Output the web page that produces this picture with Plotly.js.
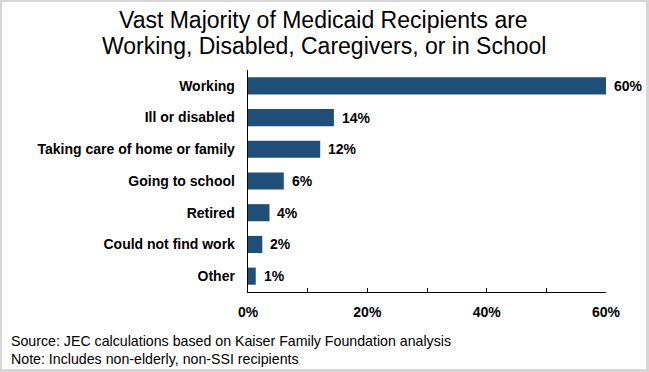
<!DOCTYPE html>
<html>
<head>
<meta charset="utf-8">
<script src="https://cdn.plot.ly/plotly-3.0.1.min.js"></script>
<style>
  html, body { margin: 0; padding: 0; background: #fff; }
  #wrap { position: relative; width: 649px; height: 372px; }
  #chart { width: 649px; height: 372px; }
  #frame { position: absolute; left: 0; top: 0; width: 649px; height: 372px; box-sizing: border-box;
           border-style: solid; border-color: #d6d6d6; border-width: 2px 3px 3px 2px; pointer-events: none; }
</style>
</head>
<body>
<div id="wrap"><div id="chart"></div><div id="frame"></div></div>
<script>
const categories = ["Working", "Ill or disabled", "Taking care of home or family", "Going to school", "Retired", "Could not find work", "Other"];
const shares = [60, 14.4, 12.1, 6, 3.6, 2.4, 1.3];
const xTickValues = [0, 20, 40, 60];
const titleLines = ["Vast Majority of Medicaid Recipients are", "Working, Disabled, Caregivers, or in School"];
const sourceNote = "Source: JEC calculations based on Kaiser Family Foundation analysis";
const noteText = "Note: Includes non-elderly, non-SSI recipients";

const W = 649, H = 372;
const M = { l: 248, r: 43, t: 70, b: 80 };
const plotW = W - M.l - M.r, plotH = H - M.t - M.b;
const px2paperX = px => (px - M.l) / plotW;
const px2paperY = py => 1 - (py - M.t) / plotH;

const FONT = "Arial, 'Liberation Sans', sans-serif";
const BAR = "#1f4e79";

const trace = {
  type: "bar",
  orientation: "h",
  x: shares,
  y: categories,
  marker: { color: BAR, line: { width: 0 } },
  hoverinfo: "none",
  width: 0.54
};

const annotations = categories.map((c, i) => ({
  x: shares[i], y: c, xref: "x", yref: "y",
  text: "<b>" + Math.round(shares[i]) + "%</b>",
  showarrow: false, xanchor: "left", yanchor: "middle", xshift: 6,
  font: { family: FONT, size: 14, color: "#000" }
}));

const titleCenters = [20, 46];
titleLines.forEach((t, i) => annotations.push({
  x: px2paperX(W / 2 - 1), y: px2paperY(titleCenters[i]), xref: "paper", yref: "paper",
  xanchor: "center", yanchor: "middle", showarrow: false,
  text: t, font: { family: FONT, size: 23, color: "#000" }
}));

annotations.push({
  x: px2paperX(9), y: px2paperY(331), xref: "paper", yref: "paper",
  xanchor: "left", yanchor: "top", showarrow: false, align: "left",
  text: sourceNote, font: { family: FONT, size: 14.2, color: "#000" }
});
annotations.push({
  x: px2paperX(9), y: px2paperY(349), xref: "paper", yref: "paper",
  xanchor: "left", yanchor: "top", showarrow: false, align: "left",
  text: noteText, font: { family: FONT, size: 14.2, color: "#000" }
});

const layout = {
  width: W, height: H,
  margin: M,
  paper_bgcolor: "#fff", plot_bgcolor: "#fff",
  showlegend: false,
  xaxis: {
    range: [0, 60], fixedrange: true,
    tickvals: xTickValues, ticktext: xTickValues.map(v => v + "%"),
    ticks: "inside", ticklen: 4, tickcolor: "#000", tickwidth: 1,
    minor: { dtick: 10, ticks: "inside", ticklen: 4, tickcolor: "#000", tickwidth: 1, showgrid: false },
    showgrid: false, zeroline: false,
    showline: true, linecolor: "#000", linewidth: 1.3,
    tickfont: { family: FONT, size: 14, color: "#000", weight: "bold" },
    ticklabelstandoff: 7
  },
  yaxis: {
    autorange: "reversed", fixedrange: true,
    showgrid: false, zeroline: false, ticks: "",
    showline: true, linecolor: "#000", linewidth: 1.3,
    tickfont: { family: FONT, size: 14, color: "#000", weight: "bold" },
    ticklabelstandoff: 9
  },
  annotations: annotations
};

Plotly.newPlot("chart", [trace], layout, { staticPlot: true, displayModeBar: false });
</script>
</body>
</html>
